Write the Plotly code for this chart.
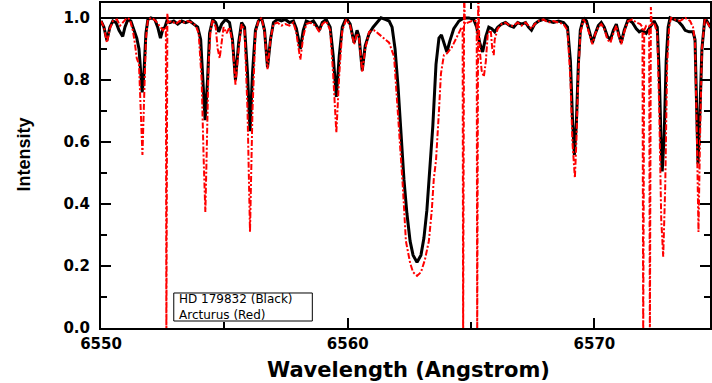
import plotly.graph_objects as go

# HD 179832 (black)
wl_black = [6550.00, 6550.12, 6550.24, 6550.36, 6550.48, 6550.61, 6550.73, 6550.88, 6550.97, 6551.09,
            6551.21, 6551.33, 6551.45, 6551.54, 6551.62, 6551.67, 6551.74, 6551.82, 6551.90, 6552.02,
            6552.18, 6552.30, 6552.41, 6552.51, 6552.59, 6552.67, 6552.79, 6552.95, 6553.11, 6553.27,
            6553.43, 6553.60, 6553.76, 6553.92, 6554.04, 6554.12, 6554.22, 6554.32, 6554.40, 6554.53,
            6554.65, 6554.77, 6554.89, 6555.05, 6555.21, 6555.33, 6555.45, 6555.58, 6555.70, 6555.82,
            6555.94, 6556.04, 6556.14, 6556.26, 6556.38, 6556.51, 6556.63, 6556.75, 6556.87, 6556.99,
            6557.15, 6557.31, 6557.47, 6557.64, 6557.80, 6557.92, 6558.08, 6558.20, 6558.32, 6558.48,
            6558.61, 6558.73, 6558.85, 6558.97, 6559.13, 6559.29, 6559.41, 6559.54, 6559.66, 6559.78,
            6559.94, 6560.10, 6560.26, 6560.38, 6560.46, 6560.59, 6560.71, 6560.87, 6561.03, 6561.19,
            6561.35, 6561.52, 6561.68, 6561.80, 6561.92, 6562.04, 6562.16, 6562.28, 6562.40, 6562.53,
            6562.65, 6562.81, 6562.97, 6563.09, 6563.21, 6563.33, 6563.45, 6563.58, 6563.70, 6563.80,
            6563.90, 6564.02, 6564.14, 6564.30, 6564.51, 6564.71, 6564.91, 6565.11, 6565.23, 6565.35,
            6565.47, 6565.60, 6565.72, 6565.84, 6565.96, 6566.08, 6566.24, 6566.40, 6566.57, 6566.73,
            6566.89, 6567.05, 6567.21, 6567.33, 6567.45, 6567.58, 6567.74, 6567.94, 6568.14, 6568.34,
            6568.55, 6568.75, 6568.91, 6569.03, 6569.11, 6569.19, 6569.27, 6569.35, 6569.43, 6569.56,
            6569.68, 6569.80, 6569.92, 6570.04, 6570.16, 6570.28, 6570.40, 6570.53, 6570.65, 6570.77,
            6570.89, 6571.01, 6571.09, 6571.21, 6571.37, 6571.54, 6571.70, 6571.82, 6571.94, 6572.10,
            6572.26, 6572.42, 6572.55, 6572.63, 6572.71, 6572.75, 6572.83, 6572.91, 6572.99, 6573.07,
            6573.23, 6573.39, 6573.56, 6573.68, 6573.84, 6574.00, 6574.08, 6574.16, 6574.20, 6574.28,
            6574.36, 6574.48, 6574.61, 6574.75]
int_black = [0.99, 0.97, 0.927, 0.97, 0.99, 0.985, 0.96, 0.94, 0.97, 0.995,
             0.99, 0.965, 0.935, 0.90, 0.80, 0.76, 0.82, 0.95, 0.995, 1.0,
             0.995, 0.97, 0.935, 0.965, 0.97, 0.99, 0.985, 0.99, 0.98, 0.99,
             0.985, 0.99, 0.98, 0.97, 0.93, 0.82, 0.67, 0.80, 0.95, 0.995,
             0.985, 0.955, 0.98, 0.995, 0.985, 0.93, 0.80, 0.92, 0.985, 0.97,
             0.82, 0.635, 0.82, 0.96, 0.99, 1.0, 0.96, 0.84, 0.93, 0.985,
             0.995, 0.99, 0.995, 0.985, 0.99, 0.965, 0.90, 0.96, 0.99, 0.985,
             0.99, 0.975, 0.96, 0.985, 0.995, 0.97, 0.88, 0.745, 0.88, 0.97,
             1.0, 0.98, 0.92, 0.96, 0.94, 0.83, 0.91, 0.95, 0.97, 0.985,
             1.0, 0.995, 0.99, 0.97, 0.90, 0.78, 0.63, 0.48, 0.37, 0.28,
             0.235, 0.212, 0.235, 0.29, 0.38, 0.50, 0.65, 0.85, 0.935, 0.945,
             0.92, 0.89, 0.925, 0.965, 0.99, 1.0, 1.0, 0.995, 0.97, 0.92,
             0.89, 0.94, 0.97, 0.965, 0.955, 0.97, 0.98, 0.985, 0.975, 0.97,
             0.985, 0.98, 0.985, 0.97, 0.96, 0.98, 0.99, 0.995, 0.99, 0.985,
             0.99, 0.985, 0.97, 0.86, 0.68, 0.558, 0.66, 0.85, 0.96, 1.0,
             0.99, 0.95, 0.92, 0.95, 0.975, 0.985, 0.97, 0.94, 0.93, 0.96,
             0.98, 0.94, 0.92, 0.96, 0.995, 0.985, 0.965, 0.955, 0.96, 0.95,
             0.97, 0.99, 0.97, 0.82, 0.58, 0.505, 0.62, 0.86, 0.97, 1.0,
             0.995, 0.99, 0.975, 0.96, 0.955, 0.955, 0.93, 0.70, 0.53, 0.70,
             0.90, 1.0, 0.985, 0.965]

# Arcturus (red)
wl_red = [6550.00, 6550.12, 6550.24, 6550.36, 6550.48, 6550.65, 6550.77, 6550.89, 6551.05, 6551.17,
          6551.29, 6551.37, 6551.45, 6551.54, 6551.62, 6551.68, 6551.74, 6551.82, 6551.90, 6552.06,
          6552.22, 6552.38, 6552.51, 6552.61, 6552.63, 6552.65, 6552.69, 6552.73, 6552.87, 6553.03,
          6553.19, 6553.35, 6553.52, 6553.68, 6553.84, 6553.96, 6554.08, 6554.16, 6554.23, 6554.28,
          6554.36, 6554.44, 6554.53, 6554.65, 6554.73, 6554.81, 6554.89, 6554.97, 6555.09, 6555.21,
          6555.33, 6555.45, 6555.58, 6555.70, 6555.82, 6555.94, 6556.04, 6556.14, 6556.26, 6556.38,
          6556.51, 6556.63, 6556.75, 6556.87, 6556.99, 6557.15, 6557.31, 6557.47, 6557.64, 6557.80,
          6557.92, 6558.08, 6558.20, 6558.32, 6558.48, 6558.61, 6558.73, 6558.85, 6558.97, 6559.13,
          6559.29, 6559.41, 6559.54, 6559.66, 6559.78, 6559.94, 6560.10, 6560.26, 6560.38, 6560.46,
          6560.59, 6560.71, 6560.87, 6561.07, 6561.23, 6561.39, 6561.68, 6561.88, 6562.00, 6562.16,
          6562.24, 6562.36, 6562.53, 6562.65, 6562.81, 6562.97, 6563.13, 6563.29, 6563.41, 6563.49,
          6563.58, 6563.70, 6563.78, 6563.90, 6564.02, 6564.22, 6564.42, 6564.59, 6564.66, 6564.68,
          6564.72, 6564.75, 6564.87, 6565.03, 6565.19, 6565.23, 6565.25, 6565.29, 6565.32, 6565.35,
          6565.43, 6565.52, 6565.60, 6565.68, 6565.80, 6565.86, 6565.92, 6565.96, 6566.08, 6566.24,
          6566.40, 6566.57, 6566.73, 6566.89, 6567.05, 6567.21, 6567.33, 6567.45, 6567.58, 6567.74,
          6567.94, 6568.14, 6568.34, 6568.55, 6568.75, 6568.91, 6569.03, 6569.11, 6569.21, 6569.27,
          6569.35, 6569.43, 6569.56, 6569.68, 6569.80, 6569.92, 6570.04, 6570.16, 6570.28, 6570.40,
          6570.53, 6570.65, 6570.77, 6570.89, 6571.01, 6571.09, 6571.21, 6571.37, 6571.54, 6571.70,
          6571.86, 6571.95, 6571.98, 6572.02, 6572.10, 6572.22, 6572.25, 6572.29, 6572.32, 6572.42,
          6572.55, 6572.63, 6572.71, 6572.79, 6572.87, 6572.95, 6573.03, 6573.11, 6573.27, 6573.47,
          6573.68, 6573.88, 6574.00, 6574.08, 6574.16, 6574.22, 6574.28, 6574.36, 6574.48, 6574.61,
          6574.75]
int_red = [0.99, 0.97, 0.92, 0.965, 0.99, 0.995, 0.975, 0.985, 1.0, 0.995,
           0.96, 0.92, 0.87, 0.85, 0.70, 0.558, 0.72, 0.93, 0.995, 1.0,
           0.99, 0.975, 0.96, 0.97, 0.97, -0.05, 1.013, 0.985, 0.99, 0.98,
           0.99, 0.985, 0.99, 0.985, 0.975, 0.95, 0.80, 0.55, 0.374, 0.55,
           0.85, 0.96, 0.995, 0.97, 0.90, 0.87, 0.93, 0.97, 0.95, 0.97,
           0.92, 0.785, 0.90, 0.98, 0.96, 0.70, 0.31, 0.70, 0.95, 0.99,
           1.0, 0.955, 0.835, 0.93, 0.98, 0.985, 0.975, 0.98, 0.975, 0.985,
           0.95, 0.865, 0.94, 0.98, 0.985, 0.98, 0.97, 0.955, 0.98, 0.99,
           0.96, 0.82, 0.63, 0.82, 0.96, 0.995, 0.975, 0.915, 0.95, 0.935,
           0.825, 0.90, 0.955, 0.96, 0.95, 0.94, 0.92, 0.875, 0.735, 0.575,
           0.45, 0.28, 0.21, 0.18, 0.168, 0.18, 0.22, 0.28, 0.38, 0.48,
           0.54, 0.70, 0.82, 0.88, 0.885, 0.905, 0.94, 0.965, 0.97, -0.05,
           1.10, 0.98, 0.985, 0.99, 0.99, 0.985, -0.05, 1.10, 0.97, 0.90,
           0.83, 0.81, 0.86, 0.95, 0.96, 0.90, 0.88, 0.93, 0.965, 0.98,
           0.985, 0.975, 0.975, 0.985, 0.975, 0.985, 0.975, 0.965, 0.98, 0.99,
           0.995, 0.985, 0.99, 0.985, 0.98, 0.96, 0.80, 0.60, 0.484, 0.60,
           0.82, 0.95, 0.995, 0.98, 0.945, 0.915, 0.95, 0.97, 0.98, 0.965,
           0.93, 0.92, 0.95, 0.975, 0.935, 0.915, 0.955, 0.99, 0.995, 0.985,
           0.98, 0.97, -0.05, 0.96, 0.975, 0.975, -0.05, 1.035, 0.98, 0.985,
           0.95, 0.70, 0.35, 0.23, 0.45, 0.85, 0.97, 1.0, 0.995, 0.99,
           1.0, 0.99, 0.97, 0.92, 0.60, 0.31, 0.60, 0.90, 1.0, 0.98,
           0.96]

continuum = 1.0
x_range = [6550, 6574.687]
y_range = [0, 1.048]
legend_lines = ["HD 179832 (Black)", "Arcturus (Red)"]

fig = go.Figure()
fig.add_trace(go.Scatter(x=wl_black, y=int_black, mode="lines",
                         line=dict(color="black", width=3), name="HD 179832"))
fig.add_trace(go.Scatter(x=wl_red, y=int_red, mode="lines",
                         line=dict(color="red", width=2, dash="6px,2px,2px,2px"), name="Arcturus"))
fig.add_hline(y=continuum, line=dict(color="black", width=2), layer="below")

axis_common = dict(showline=True, linecolor="black", linewidth=2, mirror="ticks",
                   ticks="inside", ticklen=10, tickwidth=2, tickcolor="black",
                   showgrid=False, zeroline=False)

fig.update_xaxes(range=x_range, dtick=10, tick0=6550,
                 minor=dict(dtick=5, ticks="inside", ticklen=6, tickwidth=2, tickcolor="black"),
                 tickfont=dict(family="DejaVu Sans", size=15, color="black", weight="bold"),
                 ticklabelstandoff=1, **axis_common)
fig.update_yaxes(range=y_range, dtick=0.2, tick0=0, tickformat=".1f",
                 minor=dict(dtick=0.1, ticks="inside", ticklen=6, tickwidth=2, tickcolor="black"),
                 tickfont=dict(family="DejaVu Sans", size=15, color="black", weight="bold"),
                 ticklabelstandoff=6, **axis_common)

fig.add_annotation(text="Wavelength (Angstrom)", xref="paper", yref="paper",
                   x=0.505, y=-0.13, xanchor="center", yanchor="middle", showarrow=False,
                   font=dict(family="DejaVu Sans", size=21, color="black", weight="bold"))
fig.add_annotation(text="Intensity", xref="paper", yref="paper", textangle=-90,
                   x=-0.126, y=0.535, xanchor="center", yanchor="middle", showarrow=False,
                   font=dict(family="Liberation Sans, Arial", size=18, color="black", weight="bold"))

# legend box
fig.add_shape(type="rect", xref="paper", yref="paper", x0=0.1195, x1=0.347, y0=0.0215, y1=0.1077,
              line=dict(color="black", width=1), fillcolor="white", layer="above")
fig.add_annotation(text="<br>".join(legend_lines), xref="paper", yref="paper", x=0.1244, y=0.0646,
                   xanchor="left", yanchor="middle", align="left", showarrow=False,
                   font=dict(family="DejaVu Sans", size=12, color="black"))

fig.update_layout(width=712, height=383, margin=dict(l=101, r=0, t=3, b=55),
                  plot_bgcolor="white", paper_bgcolor="white", showlegend=False)

fig.write_html("out.html")
